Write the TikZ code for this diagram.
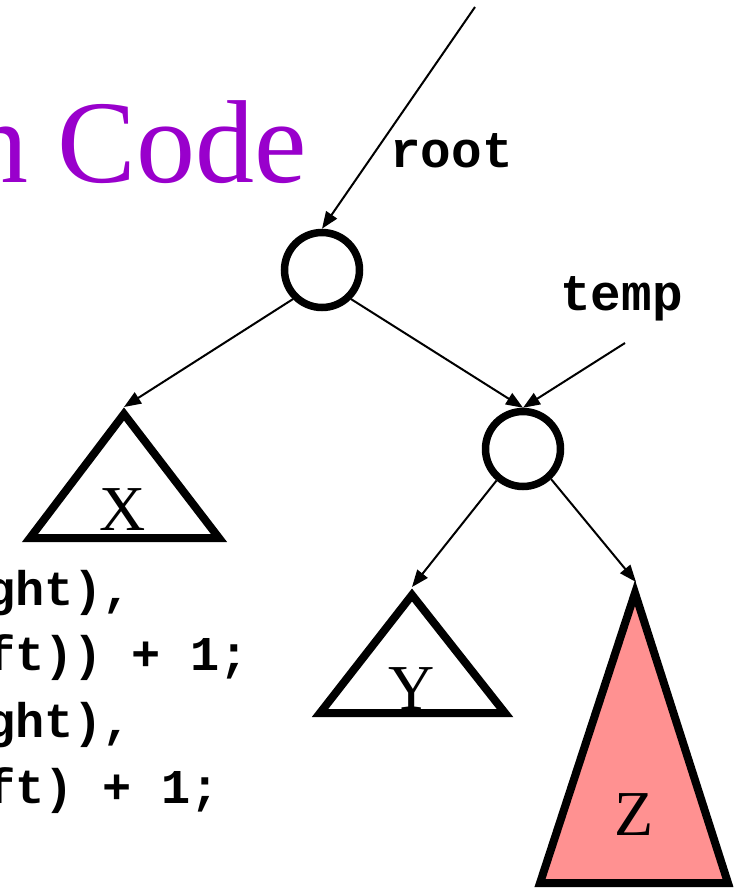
\documentclass[tikz,border=0pt]{standalone}
\usepackage{fontspec}
\setmainfont{Liberation Serif}
\setmonofont{Liberation Mono}
\usetikzlibrary{arrows.meta}
\definecolor{titlepurple}{RGB}{153,0,204}
\definecolor{zpink}{RGB}{255,145,145}
\begin{document}
\begin{tikzpicture}[x=1pt,y=-1pt,
  edge/.style={line width=2pt,-{Triangle[length=17pt,width=13pt]}},
  treenode/.style={circle,draw,line width=7.5pt,minimum size=75pt,inner sep=0pt},
  subtree/.style={line width=8pt,line join=miter},
  monolabel/.style={font=\ttfamily\bfseries\fontsize{51pt}{51pt}\selectfont,inner sep=0pt,anchor=base west},
  codeline/.style={font=\ttfamily\bfseries\fontsize{48.6pt}{49pt}\selectfont,inner sep=0pt,anchor=base west},
  treelabel/.style={font=\fontsize{64pt}{64pt}\selectfont,inner sep=0pt,anchor=base},
]
\useasboundingbox (0,0) rectangle (734,889);

% title fragment
\node[font=\fontsize{118pt}{118pt}\selectfont,text=titlepurple,inner sep=0pt,anchor=base east] (title) at (307,182) {n Code};

% code fragments
\node[codeline] (c1) at (-14,605) {ght),};
\node[codeline] (c2) at (-14,670) {ft)) + 1;};
\node[codeline] (c3) at (-14,737) {ght),};
\node[codeline] (c4) at (-14,803) {ft) + 1;};

% tree nodes
\node[treenode] (root) at (322,270) {};
\node[treenode] (temp) at (523,449) {};

% subtrees
\draw[subtree] (30,538) -- (124,414) -- (219,538) -- cycle;
\coordinate (xtop) at (124,407);
\node[treelabel] (xl) at (123,530) {X};

\draw[subtree] (320,713) -- (412,595) -- (505,713) -- cycle;
\coordinate (ytop) at (412,587);
\node[treelabel] (yl) at (412,709) {Y};

\draw[subtree,fill=zpink] (540,883) -- (635,593) -- (728,883) -- cycle;
\coordinate (ztop) at (636,582);
\node[treelabel] (zl) at (634,835) {Z};

% pointer labels
\node[monolabel] (rootlbl) at (390,167) {root};
\node[monolabel] (templbl) at (560,310) {temp};
\coordinate (rootsrc) at (475,7);
\coordinate (tempsrc) at (625,343);

% connectors
\draw[edge] (rootsrc) -- (root.north);
\draw[edge] (tempsrc) -- (temp.north);
\draw[edge] (root.-135) -- (xtop);
\draw[edge] (root.-45) -- (temp.north);
\draw[edge] (temp.-130) -- (ytop);
\draw[edge] (temp.-47) -- (ztop);
\end{tikzpicture}
\end{document}
